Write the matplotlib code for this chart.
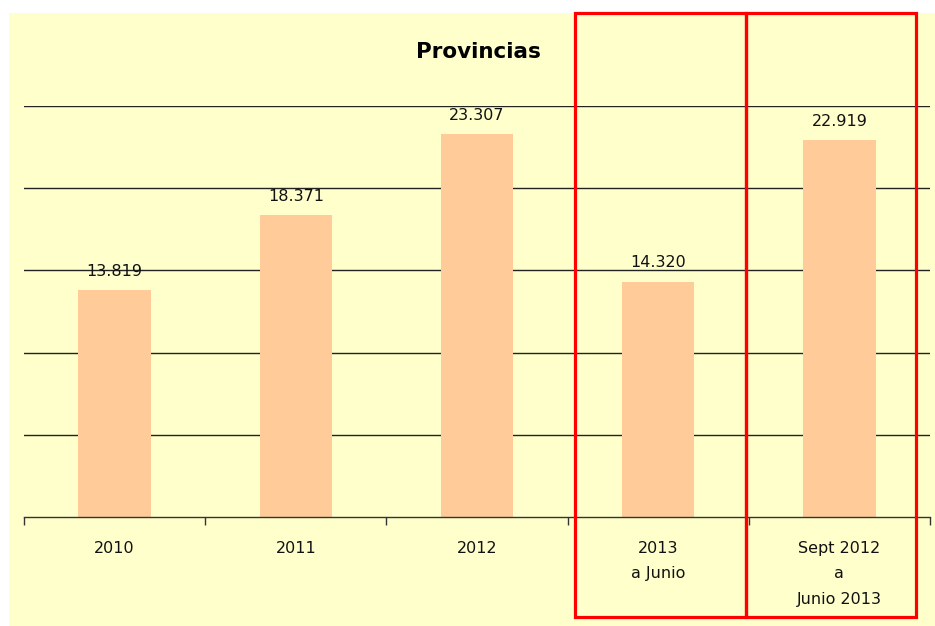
import matplotlib
matplotlib.use("Agg")
import matplotlib.pyplot as plt
from matplotlib.patches import Rectangle
import numpy as np

categories = ["2010", "2011", "2012", "2013\na Junio", "Sept 2012\na\nJunio 2013"]
values = [13819, 18371, 23307, 14320, 22919]
value_labels = ["13.819", "18.371", "23.307", "14.320", "22.919"]
title = "Provincias"

W, H = 935, 626
fig = plt.figure(figsize=(W / 100, H / 100), dpi=100, facecolor="white")

# yellow chart area
fig.add_artist(Rectangle((9 / W, 0), 1 - 9 / W, (H - 13) / H, transform=fig.transFigure,
                         facecolor="#FFFFCC", edgecolor="none", zorder=-10))

ax = fig.add_axes([24 / W, (H - 517) / H, (930 - 24) / W, (517 - 106) / H])
ax.set_zorder(1)
ax.set_facecolor("none")
x = np.arange(len(categories))
ax.bar(x, values, width=0.40, color="#FFCC99", zorder=2)
ax.set_xlim(-0.5, len(categories) - 0.5)
ax.set_ylim(0, 25000)
ax.set_yticks(np.arange(5000, 25001, 5000))
ax.yaxis.grid(True, color="#222222", linewidth=1.0)
ax.set_axisbelow(True)
ax.tick_params(axis="y", length=0, labelleft=False)
for s in ["left", "right", "top"]:
    ax.spines[s].set_visible(False)
ax.spines["bottom"].set_color("#333333")
ax.spines["bottom"].set_linewidth(1.0)

ax.set_xticks(x)
ax.set_xticklabels(categories, fontsize=11.5, color="#111111", family="DejaVu Sans",
                   linespacing=1.9)
ax.tick_params(axis="x", which="major", length=0, pad=17)
ax.set_xticks(np.arange(-0.5, len(categories)), minor=True)
ax.tick_params(axis="x", which="minor", length=6, width=1, color="#333333")

for xi, v, lab in zip(x, values, value_labels):
    ax.annotate(lab, (xi, v), xytext=(0, 8), textcoords="offset points",
                ha="center", va="bottom", fontsize=11.5, color="#111111")

fig.text(478 / W, 1 - 52 / H, title, ha="center", va="center", fontsize=15.5,
         fontweight="bold", color="black", zorder=5)

# red highlight boxes
for x0, x1 in [(575, 746), (746, 916)]:
    fig.add_artist(Rectangle((x0 / W, (H - 617) / H), (x1 - x0) / W, (617 - 13) / H,
                             transform=fig.transFigure, facecolor="none",
                             edgecolor="#FF0000", linewidth=2.3, zorder=10))

fig.savefig("out.png", dpi=100, facecolor="white")
